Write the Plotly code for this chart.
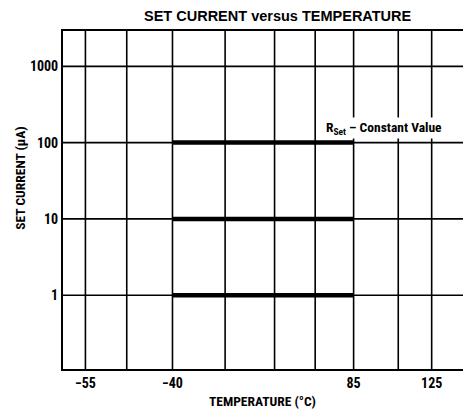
import plotly.graph_objects as go
import math

# ---- data ----
series_temps = [-40, 85]                 # temperature span of each curve (°C)
set_currents = [1, 10, 100]              # set current levels (µA)
x_tick_labels = ["−55", "−40", "85", "125"]
x_tick_temps = [-55, -40, 85, 125]
y_tick_values = [1, 10, 100, 1000]
y_tick_labels = ["1", "10", "100", "1000"]

# nonlinear temperature axis of the original chart: temperature -> axis unit
temp_axis = {-55: 22.4, -40: 109.4, 85: 290.4, 125: 368.4}
extra_grid_units = [63.7, 162.0, 211.4, 252.0, 335.0]   # unlabeled vertical grid lines
x_range = [0, 407.7]
y_range_log = [-0.967, 3.463]

FONT = "Roboto Condensed, Liberation Sans, sans-serif"
TITLE_FONT = "Liberation Sans, Arial, sans-serif"

fig = go.Figure()

for c in set_currents:
    fig.add_trace(go.Scatter(
        x=[temp_axis[t] for t in series_temps], y=[c, c],
        mode="lines", line=dict(color="black", width=4.5),
        showlegend=False, hoverinfo="skip"))

shapes = []
grid_units = sorted(extra_grid_units + [temp_axis[t] for t in x_tick_temps])
for gx in grid_units:
    shapes.append(dict(type="line", xref="x", yref="paper", x0=gx, x1=gx, y0=0, y1=1,
                       line=dict(color="black", width=1.6), layer="below"))
for gy in y_tick_values:
    shapes.append(dict(type="line", xref="paper", yref="y", x0=0, x1=1, y0=gy, y1=gy,
                       line=dict(color="black", width=1.6), layer="below"))

OFF = 8  # page body margin
W, H = 471 - OFF, 410 - OFF
ML, MR, MT, MB = 63.3 - OFF, 0, 31 - OFF, H - (369 - OFF)
pw, ph = W - ML - MR, H - MT - MB

def px_x(x):  # paper coordinate from page pixel
    return (x - OFF - ML) / pw

def px_y(y):
    return (H - MB - (y - OFF)) / ph

fig.update_layout(
    width=W, height=H,
    margin=dict(l=ML, r=MR, t=MT, b=MB, pad=0, autoexpand=False),
    paper_bgcolor="white", plot_bgcolor="white",
    shapes=shapes,
    xaxis=dict(range=x_range, tickvals=[temp_axis[t] for t in x_tick_temps],
               ticktext=[f"<b>{s}</b>" for s in x_tick_labels],
               showgrid=False, zeroline=False, showline=True, linecolor="black", linewidth=2,
               mirror=True, ticks="", ticklen=0, automargin=False,
               tickfont=dict(family=FONT, size=14, color="black")),
    yaxis=dict(type="log", range=y_range_log, tickvals=y_tick_values,
               ticktext=[f"<b>{s}</b>" for s in y_tick_labels],
               showgrid=False, zeroline=False, showline=True, linecolor="black", linewidth=2,
               mirror=True, ticks="", ticklen=0, automargin=False,
               tickfont=dict(family=FONT, size=14, color="black")),
    annotations=[
        dict(x=px_x(278), y=px_y(16.5), xref="paper", yref="paper", xanchor="center", yanchor="middle",
             showarrow=False, borderpad=0, text="<b>SET CURRENT versus TEMPERATURE</b>",
             font=dict(family=TITLE_FONT, size=14.5, color="black")),
        dict(x=px_x(263), y=px_y(401), xref="paper", yref="paper", xanchor="center", yanchor="middle",
             showarrow=False, borderpad=0, text="<b>TEMPERATURE (°C)</b>",
             font=dict(family=FONT, size=13.5, color="black")),
        dict(x=px_x(20), y=px_y(178), xref="paper", yref="paper", xanchor="center", yanchor="middle",
             showarrow=False, textangle=-90, text="<b>SET CURRENT (µA)</b>",
             font=dict(family=FONT, size=13.5, color="black")),
        dict(x=temp_axis[85] - 30, y=math.log10(100), xref="x", yref="y",
             xanchor="left", yanchor="bottom", yshift=4, showarrow=False,
             text="<b>R<sub>Set</sub> – Constant Value</b>",
             font=dict(family=FONT, size=13.5, color="black"), bgcolor="white"),
    ],
)

fig.write_html("out.html")
